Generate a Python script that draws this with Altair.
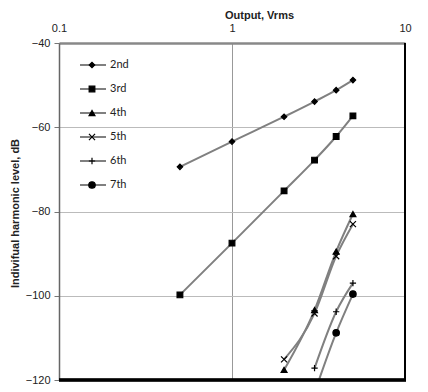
import altair as alt
import pandas as pd

series = ["2nd", "3rd", "4th", "5th", "6th", "7th"]
x_vals = [0.5, 1, 2, 3, 4, 5]
h2 = [-69.4, -63.4, -57.5, -53.9, -51.2, -48.8]
h3 = [-99.8, -87.5, -75.1, -67.8, -62.2, -57.3]
h4 = [None, None, -117.6, -103.4, -89.5, -80.6]
h5 = [None, None, -115.1, -104.2, -90.6, -83.0]
h6 = [None, None, None, -117.2, -103.8, -97.0]
h7 = [None, None, None, -123.0, -108.8, -99.6]

shapes = ["diamond", "square", "triangle-up",
          "M-1,-1L1,1M-1,1L1,-1", "M-1,0L1,0M0,-1L0,1", "circle"]
fills = ["black", "black", "black", "transparent", "transparent", "black"]
sizes = [30, 42, 42, 50, 56, 50]

rows = []
for name, vals in zip(series, [h2, h3, h4, h5, h6, h7]):
    for x, y in zip(x_vals, vals):
        if y is not None:
            rows.append({"series": name, "x": x, "y": y})
df = pd.DataFrame(rows)
leg = pd.DataFrame({"series": series})

shape_enc = alt.Shape("series:N", scale=alt.Scale(domain=series, range=shapes), legend=None)
fill_enc = alt.Fill("series:N", scale=alt.Scale(domain=series, range=fills), legend=None)
size_enc = alt.Size("series:N", scale=alt.Scale(domain=series, range=sizes), legend=None)

xenc = alt.X("x:Q", scale=alt.Scale(type="log", domain=[0.1, 10]),
             axis=alt.Axis(orient="top", values=[0.1, 1, 10], format="~g",
                           title="Output, Vrms", titleFont="Liberation Sans",
                           titleFontSize=11, titleFontWeight="bold", titleColor="#222",
                           titleX=200, titleY=-28, titleBaseline="middle",
                           labelFont="Liberation Sans", labelFontSize=11, labelColor="#222",
                           labelFlush=False, labelPadding=10, tickSize=0, ticks=False,
                           domainColor="#888", domainWidth=2.5,
                           grid=True, gridColor="#999", gridWidth=1))
yenc = alt.Y("y:Q", scale=alt.Scale(domain=[-120, -40], nice=False),
             axis=alt.Axis(values=[-120, -100, -80, -60, -40], title="Indivifual harmonic level, dB",
                           titleFont="Liberation Sans", titleFontSize=11, titleFontWeight="bold",
                           titleColor="#222", titleX=-44, titleY=170, titleBaseline="middle",
                           labelFont="Liberation Sans", labelFontSize=11, labelColor="#222",
                           labelPadding=4, tickSize=5, tickColor="#777",
                           domainColor="#666", domainWidth=1.5,
                           grid=True, gridColor="#bbb", gridWidth=1))

lines = alt.Chart(df).mark_line(color="#808080", strokeWidth=2, interpolate="monotone", clip=True).encode(
    x=xenc, y=yenc, detail="series:N")
points = alt.Chart(df).mark_point(stroke="black", strokeWidth=1.2, opacity=1, clip=True).encode(
    x="x:Q", y="y:Q", shape=shape_enc, fill=fill_enc, size=size_enc)

main = alt.layer(lines, points)

ly = alt.Y("series:N", scale=alt.Scale(type="point", domain=series, range=[22, 142], padding=0), axis=None)
leg_line = alt.Chart(leg).mark_rule(color="#808080", strokeWidth=2).encode(
    x=alt.value(21), x2=alt.value(47), y=ly)
leg_pt = alt.Chart(leg).mark_point(stroke="black", strokeWidth=1.2, opacity=1).encode(
    x=alt.value(33), y=ly, shape=shape_enc, fill=fill_enc, size=size_enc)
leg_txt = alt.Chart(leg).mark_text(align="left", baseline="middle", font="Lato", fontSize=11,
                                   color="#222").encode(x=alt.value(51), y=ly, text="series:N")
legend = alt.layer(leg_line, leg_pt, leg_txt)

border_r = alt.Chart(leg).mark_rule(color="black", strokeWidth=2).encode(
    x=alt.value(346), y=alt.value(0), y2=alt.value(338))
border_b = alt.Chart(leg).mark_rule(color="black", strokeWidth=2.5).encode(
    x=alt.value(0), x2=alt.value(347), y=alt.value(337))
borders = alt.layer(border_r, border_b)

chart = alt.layer(main, legend, borders).resolve_scale(y="independent").properties(
    width=346, height=337,
    autosize=alt.AutoSizeParams(type="none"),
    padding={"left": 51, "top": 35, "right": 15, "bottom": 4},
).configure_view(stroke=None)

chart.save("out.html", embed_options={"renderer": "svg", "actions": False})
